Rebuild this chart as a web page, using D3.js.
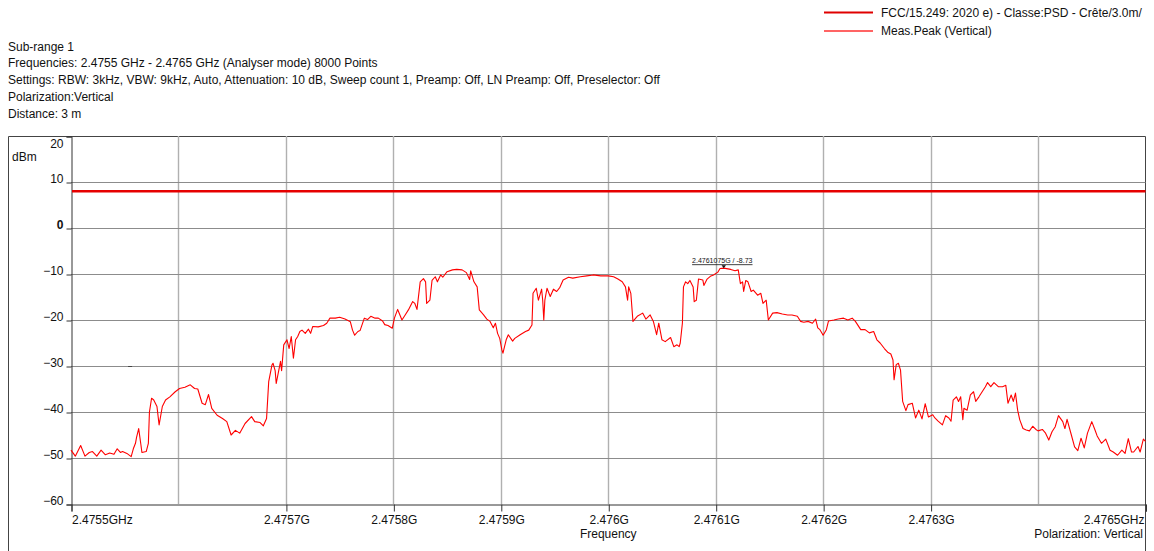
<!DOCTYPE html>
<html><head><meta charset="utf-8">
<script src="https://cdn.jsdelivr.net/npm/d3@7"></script>
<style>
body{margin:0;background:#fff;}
svg{display:block;font-family:"Liberation Sans",Arial,sans-serif;}
</style>
</head><body><svg id="c" width="1154" height="551"></svg>
<script>
const headerLines = [
  "Sub-range 1",
  "Frequencies: 2.4755 GHz - 2.4765 GHz (Analyser mode) 8000 Points",
  "Settings: RBW: 3kHz, VBW: 9kHz, Auto, Attenuation: 10 dB, Sweep count 1, Preamp: Off, LN Preamp: Off, Preselector: Off",
  "Polarization:Vertical",
  "Distance: 3 m"
];
const legendLabels = ["FCC/15.249: 2020 e) - Classe:PSD - Crête/3.0m/", "Meas.Peak (Vertical)"];
const legendColors = ["#e00000", "#ff3030"];
const freqDomainGHz = [2.4755, 2.4765];
const levelDomainDbm = [-60, 20];
const yTicks = [20, 10, 0, -10, -20, -30, -40, -50, -60];
const yGrid = [10, 0, -10, -20, -30, -40, -50];
const xGridGHz = [2.4756, 2.4757, 2.4758, 2.4759, 2.476, 2.4761, 2.4762, 2.4763, 2.4764];
const xTickGHz = [2.4755, 2.4757, 2.4758, 2.4759, 2.476, 2.4761, 2.4762, 2.4763, 2.4765];
const xTickLabels = ["2.4755GHz", "2.4757G", "2.4758G", "2.4759G", "2.476G", "2.4761G", "2.4762G", "2.4763G", "2.4765GHz"];
const xAxisTitle = "Frequency";
const polarizationNote = "Polarization: Vertical";
const yUnit = "dBm";
const limitDbm = 8;
const peakGHz = 2.4761075, peakDbm = -8.73;
const peakLabel = "2.4761075G / -8.73";
const strayMark = [2.475555, -30];
// trace: [offset from 2.4755 GHz in kHz, level in dBm]
const tracePoints = [
[0,-48.3],[4,-49.6],[9,-47.3],[13,-49.6],[17,-48.8],[20,-48.6],[24,-49.6],[28,-48.3],[32,-49.3],[36,-48.9],
[40,-49.2],[43,-48.0],[46,-48.8],[48,-48.6],[52,-49.0],[56,-49.7],[58,-48.0],[60,-46.8],[61,-45.5],[63,-43.6],
[65,-47.0],[66,-48.8],[70,-48.6],[72,-46.8],[73,-40.0],[75,-37.0],[77,-37.4],[80,-38.8],[82,-42.8],[85,-38.8],
[88,-37.4],[92,-36.7],[97,-35.6],[101,-34.9],[106,-34.6],[111,-34.1],[115,-34.9],[118,-35.0],[122,-38.1],[125,-38.4],
[128,-36.2],[131,-39.2],[136,-40.7],[141,-41.4],[145,-42.1],[149,-45.0],[153,-44.0],[157,-44.6],[162,-42.5],[168,-41.0],
[171,-42.1],[176,-42.3],[179,-43.0],[182,-41.4],[184,-33.4],[187,-29.8],[188,-29.4],[190,-31.0],[191,-33.8],[195,-29.0],
[196,-31.0],[198,-25.4],[201,-24.3],[203,-26.2],[205,-23.6],[207,-28.3],[209,-24.3],[211,-23.6],[213,-22.5],[215,-22.2],
[218,-22.9],[221,-22.0],[223,-22.9],[225,-21.4],[230,-21.5],[235,-21.2],[238,-20.7],[241,-19.6],[246,-19.6],[250,-19.4],
[255,-19.8],[260,-20.4],[262,-22.2],[264,-23.3],[267,-22.5],[269,-22.3],[273,-19.6],[276,-19.9],[279,-19.2],[283,-19.6],
[286,-19.6],[290,-20.2],[292,-21.0],[295,-21.2],[299,-21.8],[301,-19.6],[304,-17.7],[308,-20.0],[311,-18.9],[314,-17.8],
[318,-16.0],[320,-16.4],[322,-17.7],[325,-11.7],[328,-11.0],[330,-11.7],[331,-16.4],[334,-15.7],[336,-11.4],[339,-10.6],
[341,-11.7],[344,-10.2],[346,-10.7],[350,-9.5],[355,-9.1],[359,-9.0],[364,-9.1],[368,-9.7],[371,-11.2],[372,-9.3],
[375,-11.7],[378,-12.8],[380,-17.8],[384,-18.9],[387,-19.8],[390,-20.3],[393,-21.7],[395,-20.7],[397,-22.9],[399,-24.0],
[401,-26.5],[402,-27.2],[405,-24.3],[407,-23.2],[411,-24.6],[413,-24.0],[418,-23.2],[423,-22.5],[426,-22.2],[429,-21.1],
[430,-14.2],[433,-13.1],[435,-15.7],[438,-13.3],[439,-15.7],[440,-20.0],[441,-15.7],[443,-13.1],[446,-14.9],[449,-13.3],
[452,-13.8],[455,-12.9],[458,-11.3],[463,-10.7],[467,-10.9],[474,-10.6],[480,-10.4],[486,-10.2],[493,-10.4],[500,-10.4],
[505,-10.6],[509,-11.1],[513,-11.7],[516,-12.8],[518,-15.7],[519,-12.8],[521,-14.2],[523,-20.3],[527,-19.2],[532,-18.5],
[535,-19.8],[539,-18.9],[542,-20.3],[545,-23.2],[547,-20.7],[550,-24.3],[553,-24.7],[558,-23.8],[561,-25.8],[564,-25.4],
[566,-25.8],[567,-25.0],[569,-20.7],[570,-12.8],[572,-11.7],[574,-12.1],[576,-11.4],[579,-12.8],[580,-16.0],[582,-15.7],
[584,-11.1],[588,-11.3],[589,-12.5],[592,-11.1],[595,-10.5],[598,-10.2],[602,-9.6],[604,-8.8],[607.5,-8.73],[614,-9.0],
[618,-9.3],[621,-9.1],[623,-12.1],[625,-11.7],[626,-13.8],[628,-11.4],[630,-11.7],[633,-13.8],[635,-13.5],[639,-14.6],
[642,-14.2],[644,-16.4],[647,-15.7],[649,-20.0],[653,-18.5],[657,-18.4],[662,-18.7],[667,-18.9],[671,-18.9],[676,-19.2],
[679,-20.3],[682,-20.5],[686,-20.3],[690,-20.7],[693,-19.8],[695,-21.7],[697,-22.1],[700,-23.3],[703,-22.1],[705,-20.2],
[710,-20.0],[714,-19.8],[719,-19.6],[723,-20.0],[727,-19.6],[730,-20.3],[735,-22.1],[739,-22.1],[743,-22.8],[747,-22.5],
[750,-24.3],[753,-25.0],[757,-26.2],[760,-27.0],[763,-27.4],[765,-28.7],[766,-33.0],[768,-29.7],[770,-29.4],[772,-30.9],
[774,-37.7],[777,-39.7],[779,-38.4],[783,-38.1],[786,-41.3],[789,-39.6],[792,-41.5],[795,-38.2],[798,-41.1],[802,-40.6],
[804,-41.3],[807,-42.0],[811,-42.8],[814,-40.8],[817,-41.3],[819,-42.0],[821,-37.4],[824,-36.7],[826,-37.7],[828,-36.7],
[830,-41.7],[831,-39.2],[834,-39.6],[837,-36.3],[840,-35.6],[842,-37.7],[845,-36.7],[848,-35.6],[851,-34.5],[853,-33.6],
[856,-34.5],[859,-33.6],[863,-34.5],[867,-34.5],[870,-34.2],[872,-38.1],[875,-36.3],[877,-37.7],[879,-35.9],[881,-39.6],
[883,-41.7],[886,-43.6],[889,-43.9],[892,-44.1],[895,-43.1],[898,-43.8],[900,-44.1],[904,-43.8],[907,-44.6],[910,-46.1],
[913,-44.3],[916,-43.2],[919,-40.8],[923,-42.1],[925,-43.6],[927,-41.6],[931,-45.0],[934,-47.6],[937,-48.4],[940,-45.7],
[943,-47.8],[946,-44.6],[950,-42.1],[953,-43.9],[955,-45.2],[959,-46.8],[963,-45.9],[967,-48.3],[970,-48.7],[974,-49.4],
[978,-48.3],[981,-49.0],[984,-45.8],[987,-48.7],[989,-48.7],[993,-47.5],[995,-48.7],[998,-45.9],[1000,-46.4]
];

const svg = d3.select("#c");
const L = 71, R = 1145.5, T = 136, B = 504;
const x = d3.scaleLinear().domain(freqDomainGHz).range([L, R]);
const y = d3.scaleLinear().domain(levelDomainDbm).range([B, T]);

// header
svg.append("g").selectAll("text").data(headerLines).join("text")
  .attr("x", 8).attr("y", (d, i) => 50.5 + i * 16.8)
  .attr("font-size", 12).attr("fill", "#111").text(d => d);

// legend
const legY = [12.5, 31];
legendLabels.forEach((lab, i) => {
  svg.append("line")
    .attr("x1", 824).attr("x2", 873)
    .attr("y1", legY[i]).attr("y2", legY[i])
    .attr("stroke", legendColors[i])
    .attr("stroke-width", i === 0 ? 2.2 : 1.4);
  svg.append("text")
    .attr("x", 881).attr("y", legY[i] + 4.2)
    .attr("font-size", 12).attr("fill", "#111").text(lab);
});

// frame
svg.append("path")
  .attr("d", `M8.5,551 V${T + 0.5} H${R} V551`)
  .attr("fill", "none").attr("stroke", "#444").attr("stroke-width", 1);

// grid
svg.append("g").selectAll("line").data(xGridGHz).join("line")
  .attr("x1", d => Math.round(x(d)) + 0.5).attr("x2", d => Math.round(x(d)) + 0.5)
  .attr("y1", T).attr("y2", B)
  .attr("stroke", "#b0b0b0").attr("stroke-width", 1.4);
svg.append("g").selectAll("line").data(yGrid).join("line")
  .attr("x1", L).attr("x2", R)
  .attr("y1", d => Math.round(y(d)) + 0.5).attr("y2", d => Math.round(y(d)) + 0.5)
  .attr("stroke", "#8c8c8c").attr("stroke-width", 1);

// axes
const yAxis = svg.append("g").attr("transform", `translate(${L + 0.5},0.5)`)
  .call(d3.axisLeft(y).tickValues(yTicks).tickSize(5).tickPadding(3).tickFormat(d3.format("d")));
yAxis.select(".domain").attr("stroke", "#333");
yAxis.selectAll(".tick line").attr("stroke", "#333");
yAxis.selectAll(".tick text")
  .attr("font-family", "Liberation Sans, Arial, sans-serif").attr("font-size", 12).attr("fill", "#111")
  .attr("dy", d => d === 20 ? "0.92em" : "0")
  .attr("font-weight", d => d === 0 ? "bold" : "normal");

const xAxis = svg.append("g").attr("transform", `translate(0.5,${B + 0.5})`)
  .call(d3.axisBottom(x).tickValues(xTickGHz).tickSize(7).tickPadding(4)
    .tickFormat((d, i) => xTickLabels[i]));
xAxis.select(".domain").attr("stroke", "#333");
xAxis.selectAll(".tick line").attr("stroke", "#333");
xAxis.selectAll(".tick text")
  .attr("font-family", "Liberation Sans, Arial, sans-serif").attr("font-size", 12).attr("fill", "#111")
  .attr("text-anchor", (d, i) => i === 0 ? "start" : (i === xTickGHz.length - 1 ? "end" : "middle"))
  .attr("dx", (d, i) => i === xTickGHz.length - 1 ? -2 : 0);

svg.append("text").attr("x", x(2.476)).attr("y", 537.5).attr("text-anchor", "middle")
  .attr("font-size", 12).attr("fill", "#111").text(xAxisTitle);
svg.append("text").attr("x", R - 2.5).attr("y", 537.5).attr("text-anchor", "end")
  .attr("font-size", 12).attr("fill", "#111").text(polarizationNote);
svg.append("text").attr("x", 12).attr("y", 161)
  .attr("font-size", 12).attr("fill", "#111").text(yUnit);

// stray mark
svg.append("line")
  .attr("x1", x(strayMark[0]) - 2).attr("x2", x(strayMark[0]) + 2)
  .attr("y1", y(strayMark[1]) + 0.5).attr("y2", y(strayMark[1]) + 0.5)
  .attr("stroke", "#444").attr("stroke-width", 1);

// limit line
svg.append("line").attr("x1", L + 1).attr("x2", R)
  .attr("y1", y(limitDbm)).attr("y2", y(limitDbm))
  .attr("stroke", "#e60000").attr("stroke-width", 2.6);

// trace
const line = d3.line()
  .x(d => x(freqDomainGHz[0] + d[0] / 1e6))
  .y(d => y(d[1]));
svg.append("path").datum(tracePoints)
  .attr("d", line).attr("fill", "none")
  .attr("stroke", "#ff0000").attr("stroke-width", 1.1).attr("stroke-linejoin", "round");

// peak marker
const px = x(peakGHz), py = y(peakDbm);
const mt = svg.append("text").attr("x", px - 1.5).attr("y", py - 5)
  .attr("text-anchor", "middle").attr("font-size", 7).attr("fill", "#111").text(peakLabel);
const bb = mt.node().getBBox();
svg.append("line").attr("x1", bb.x).attr("x2", bb.x + bb.width)
  .attr("y1", py - 3.5).attr("y2", py - 3.5).attr("stroke", "#111").attr("stroke-width", 0.8);
svg.append("path")
  .attr("d", `M${px - 2.2},${py - 3} L${px + 2.2},${py - 3} L${px},${py} Z`)
  .attr("fill", "#111");
</script>
</body></html>
